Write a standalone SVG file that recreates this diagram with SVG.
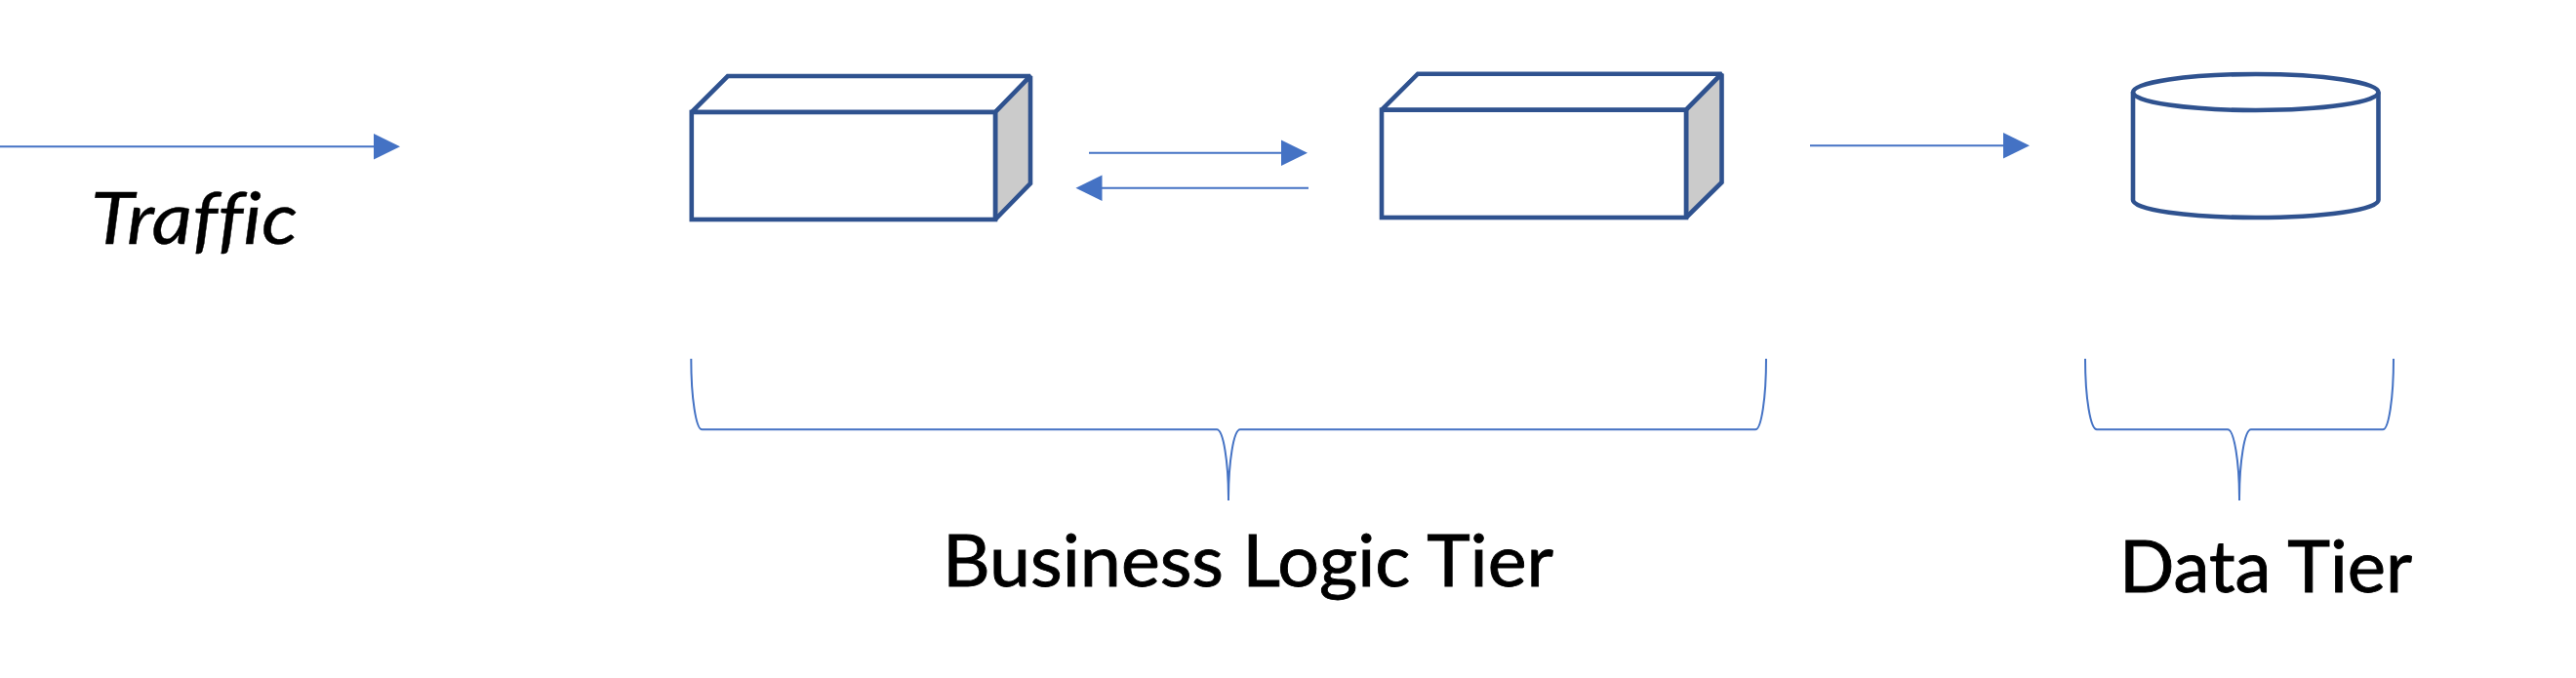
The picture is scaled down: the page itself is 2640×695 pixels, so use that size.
<svg xmlns="http://www.w3.org/2000/svg" width="2640" height="695" viewBox="0 0 2640 695">
<style>
.shape{fill:#fff;stroke:#2F528F;stroke-width:4.6;stroke-linejoin:miter;stroke-miterlimit:2}
.side{fill:#CBCBCB;stroke:#2F528F;stroke-width:4.6;stroke-linejoin:miter;stroke-miterlimit:2}
.line{fill:none;stroke:#4472C4;stroke-width:2}
.head{fill:#4472C4}
text{font-family:"Lato","Liberation Sans",sans-serif;fill:#000;stroke:#000;stroke-width:.9;font-size:74px;font-variant-ligatures:none}
#label-traffic text{stroke-width:.4}
</style>
<rect width="2640" height="695" fill="#fff"/>
<g id="connectors">
<path class="line" d="M0 150.3H384"/><path class="head" d="M383 137L410 150.3L383 163.6Z"/>
<path class="line" d="M1116 156.7H1314"/><path class="head" d="M1313 143.4L1340 156.7L1313 170Z"/>
<path class="line" d="M1341 192.7H1129"/><path class="head" d="M1129.5 179.4L1102.5 192.7L1129.5 206Z"/>
<path class="line" d="M1855 149.3H2054"/><path class="head" d="M2053 136L2080 149.3L2053 162.6Z"/>
</g>
<g id="server-1">
<path class="shape" d="M708.8 115L745.8 78H1056L1020 115Z"/>
<path class="side" d="M1020 115L1056 78V188L1020 225Z"/>
<rect class="shape" x="708.8" y="115" width="311.2" height="110"/>
</g>
<g id="server-2">
<path class="shape" d="M1416 112.7L1453 75.7H1764.5L1728 112.7Z"/>
<path class="side" d="M1728 112.7L1764.5 75.7V187L1728 223Z"/>
<rect class="shape" x="1416" y="112.7" width="312" height="110.3"/>
</g>
<g id="database">
<path class="shape" d="M2186 94.5A125.75 18.5 0 0 1 2437.5 94.5V205A125.75 18 0 0 1 2186 205Z"/>
<path class="shape" style="fill:none" d="M2186 94.5A125.75 18.5 0 0 0 2437.5 94.5"/>
</g>
<g id="brace-business">
<path class="line" d="M708.3 367.7A11.2 72.6 0 0 0 719.5 440.3H1247A12 72.7 0 0 1 1259 513A12 72.7 0 0 1 1271 440.3H1799A11 72.6 0 0 0 1810 367.7"/>
</g>
<g id="brace-data">
<path class="line" d="M2137 367.7A12 72.6 0 0 0 2149 440.3H2283A12 72.7 0 0 1 2295 513A12 72.7 0 0 1 2307 440.3H2442A11 72.6 0 0 0 2453 367.7"/>
</g>
<g id="label-traffic"><text x="93" y="250" font-style="italic" textLength="212" lengthAdjust="spacingAndGlyphs">Traffic</text></g>
<g id="label-business"><text x="966" y="600.7" textLength="626" lengthAdjust="spacingAndGlyphs">Business Logic Tier</text></g>
<g id="label-data"><text x="2172" y="607" textLength="300" lengthAdjust="spacingAndGlyphs">Data Tier</text></g>
</svg>
